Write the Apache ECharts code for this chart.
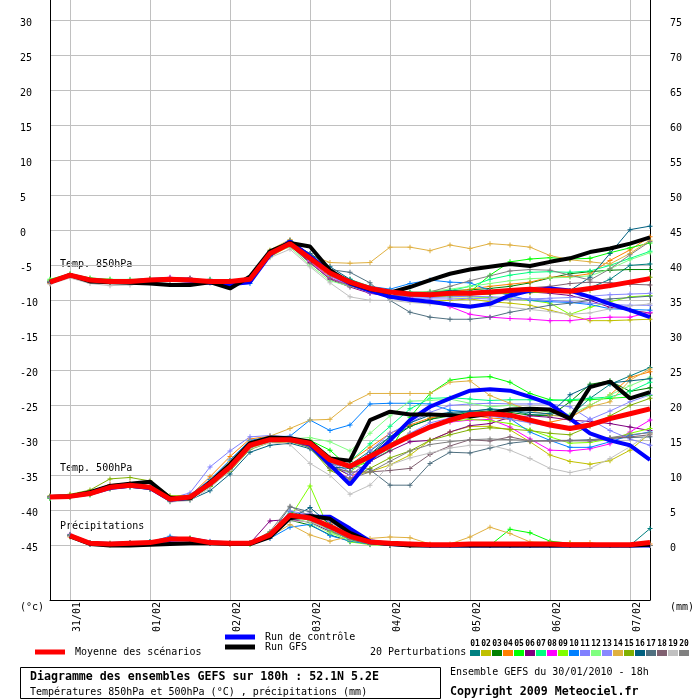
<!DOCTYPE html>
<html>
<head>
<meta charset="utf-8">
<title>Diagramme des ensembles GEFS</title>
<script src="https://cdn.jsdelivr.net/npm/echarts@6/dist/echarts.min.js"></script>
<style>
  html, body { margin: 0; padding: 0; background: #fff; }
  #chart { width: 700px; height: 700px; }
</style>
</head>
<body>
<div id="chart"></div>
<script>
// run du 30/01/2010 18h, pas de 6h jusqu'a 180h
const times = [
  '30/01 18h', '31/01 00h', '31/01 06h', '31/01 12h', '31/01 18h',
  '01/02 00h', '01/02 06h', '01/02 12h', '01/02 18h',
  '02/02 00h', '02/02 06h', '02/02 12h', '02/02 18h',
  '03/02 00h', '03/02 06h', '03/02 12h', '03/02 18h',
  '04/02 00h', '04/02 06h', '04/02 12h', '04/02 18h',
  '05/02 00h', '05/02 06h', '05/02 12h', '05/02 18h',
  '06/02 00h', '06/02 06h', '06/02 12h', '06/02 18h',
  '07/02 00h', '07/02 06h'
];
const leftTicks = [-45, -40, -35, -30, -25, -20, -15, -10, -5, 0, 5, 10, 15, 20, 25, 30];
const rightTicks = [0, 5, 10, 15, 20, 25, 30, 35, 40, 45, 50, 55, 60, 65, 70, 75];

const pertColors = ['#008080', '#c0c000', '#008000', '#ff8000', '#00ff00', '#800080', '#00ff80',
  '#ff00ff', '#80ff00', '#0080ff', '#8080ff', '#80ff80', '#8888ff', '#e0b040', '#80b000',
  '#006080', '#507080', '#806070', '#c0c0c0', '#808080'];

// ---- Temp. 850hPa
const t850Mean = [-7.4,-6.4,-7.1,-7.3,-7.3,-7.1,-7.0,-7.1,-7.3,-7.3,-7.0,-3.3,-1.9,-4.0,-6.1,-7.4,-8.3,-8.8,-9.1,-9.2,-9.0,-9.0,-8.8,-8.6,-8.4,-8.6,-8.7,-8.3,-7.9,-7.4,-6.9];
const t850Gfs = [-7.4,-6.4,-7.3,-7.4,-7.5,-7.6,-7.8,-7.8,-7.4,-8.3,-6.6,-3.0,-1.8,-2.3,-5.7,-7.5,-8.4,-8.9,-8.1,-7.1,-6.2,-5.6,-5.2,-4.8,-5.1,-4.5,-4.0,-3.1,-2.6,-1.9,-1.0];
const t850Ctrl = [-7.4,-6.4,-7.1,-7.3,-7.3,-7.1,-7.0,-7.2,-7.5,-7.7,-7.4,-3.5,-1.6,-3.7,-6.0,-7.6,-8.6,-9.5,-9.9,-10.2,-10.6,-10.9,-10.5,-9.3,-8.6,-8.3,-8.6,-9.5,-10.5,-11.4,-12.4];
const t850Pert = [
  [-7.2,-6.3,-7.0,-7.4,-7.2,-7.0,-7.1,-7.2,-7.0,-7.4,-7.2,-3.6,-2.0,-4.2,-6.4,-7.6,-8.5,-9.0,-9.3,-9.4,-9.2,-9.0,-8.8,-8.7,-8.6,-8.7,-8.8,-8.2,-7.0,-5.0,-4.8],
  [-7.5,-6.5,-7.3,-7.2,-7.4,-7.2,-6.9,-7.0,-7.4,-7.5,-7.3,-3.8,-2.2,-4.5,-6.6,-7.6,-8.6,-9.4,-9.8,-10.1,-10.0,-9.8,-10.2,-10.4,-10.7,-11.4,-12.1,-12.9,-12.9,-12.8,-12.7],
  [-7.3,-6.4,-7.1,-7.2,-7.1,-6.9,-7.0,-7.0,-7.2,-7.2,-6.8,-3.0,-1.6,-3.8,-6.0,-7.3,-8.2,-8.7,-8.9,-8.8,-8.6,-8.5,-8.3,-8.0,-7.5,-6.8,-6.2,-5.9,-5.7,-5.6,-5.6],
  [-7.6,-6.6,-7.2,-7.5,-7.3,-7.1,-7.2,-7.3,-7.5,-7.4,-7.1,-3.4,-1.8,-3.9,-6.2,-7.5,-8.8,-9.3,-9.5,-9.4,-8.9,-8.4,-8.0,-7.7,-7.4,-6.7,-6.6,-6.2,-4.3,-2.8,-0.9],
  [-7.0,-6.2,-6.8,-7.0,-7.1,-7.0,-6.8,-6.9,-7.1,-7.2,-6.9,-2.9,-1.5,-3.6,-5.9,-7.2,-8.3,-8.8,-9.0,-9.2,-8.9,-8.8,-6.4,-4.5,-4.1,-3.9,-4.1,-4.0,-3.2,-2.5,-1.8],
  [-7.4,-6.5,-7.2,-7.3,-7.5,-7.2,-6.8,-6.8,-7.3,-7.4,-7.1,-3.5,-2.1,-4.6,-7.0,-8.1,-9.0,-9.4,-9.5,-9.3,-9.1,-9.0,-8.9,-8.8,-8.8,-9.0,-9.3,-10.0,-11.0,-11.4,-11.8],
  [-7.3,-6.4,-7.0,-7.3,-7.2,-7.1,-7.0,-7.1,-7.2,-7.3,-7.0,-3.1,-1.7,-3.7,-5.8,-7.0,-8.0,-8.6,-8.8,-8.9,-8.6,-8.0,-7.0,-6.4,-6.0,-5.9,-6.0,-5.8,-5.0,-4.0,-3.0],
  [-7.5,-6.4,-7.1,-7.3,-7.4,-7.0,-6.7,-7.0,-7.2,-7.3,-7.0,-3.2,-1.9,-4.4,-6.8,-7.8,-8.9,-9.3,-9.6,-10.2,-10.9,-12.0,-12.4,-12.6,-12.7,-12.9,-12.9,-12.6,-12.4,-12.4,-11.7],
  [-7.2,-6.3,-7.0,-7.1,-7.2,-7.0,-7.1,-7.2,-7.3,-7.2,-7.0,-3.3,-1.9,-3.9,-6.0,-7.4,-8.4,-8.9,-9.2,-9.4,-9.5,-9.5,-9.6,-9.8,-10.0,-10.4,-12.0,-11.0,-10.2,-9.5,-9.3],
  [-7.4,-6.5,-7.2,-7.3,-7.3,-7.2,-7.1,-7.2,-7.4,-7.7,-7.6,-3.7,-1.4,-3.5,-5.8,-7.4,-8.0,-8.4,-7.6,-7.1,-7.4,-7.5,-8.6,-9.3,-10.0,-10.2,-10.3,-10.6,-11.2,-11.3,-11.4],
  [-7.3,-6.4,-7.1,-7.2,-7.3,-7.1,-7.0,-7.1,-7.3,-7.3,-7.0,-3.0,-1.6,-4.1,-6.5,-7.9,-8.9,-9.3,-9.5,-9.6,-9.5,-9.4,-9.5,-9.6,-9.8,-10.0,-10.2,-10.4,-10.6,-10.7,-10.7],
  [-7.1,-6.3,-6.9,-7.0,-7.0,-6.9,-6.9,-7.0,-7.1,-7.2,-6.8,-3.2,-2.4,-5.0,-7.2,-8.0,-8.6,-9.0,-9.0,-8.7,-8.4,-8.0,-7.6,-7.2,-6.9,-6.8,-6.7,-6.5,-5.5,-4.2,-3.2],
  [-7.4,-6.4,-7.1,-7.3,-7.2,-7.1,-7.1,-7.2,-7.3,-7.2,-6.9,-3.4,-2.0,-4.3,-6.4,-7.7,-8.8,-9.4,-9.7,-9.8,-9.8,-9.7,-9.8,-9.9,-9.8,-9.7,-9.6,-9.4,-9.2,-9.1,-9.0],
  [-7.3,-6.4,-7.0,-7.3,-7.3,-7.1,-7.0,-7.1,-7.3,-7.3,-6.9,-2.8,-1.3,-3.5,-4.6,-4.7,-4.6,-2.4,-2.4,-2.9,-2.1,-2.6,-1.9,-2.1,-2.4,-3.6,-4.2,-4.5,-4.8,-3.3,-1.4],
  [-7.5,-6.5,-7.2,-7.4,-7.3,-7.1,-7.0,-7.2,-7.3,-7.3,-7.1,-3.4,-2.0,-4.0,-6.2,-7.5,-8.5,-9.0,-9.2,-9.3,-9.3,-9.2,-9.1,-9.0,-8.9,-8.8,-8.8,-8.6,-7.9,-7.4,-6.7],
  [-7.4,-6.4,-7.1,-7.3,-7.3,-7.1,-7.0,-7.1,-7.3,-7.4,-7.2,-3.5,-1.7,-3.3,-5.2,-7.0,-8.2,-9.0,-9.2,-9.0,-8.6,-8.8,-9.0,-8.8,-8.7,-8.4,-8.6,-6.7,-3.3,0.1,0.6],
  [-7.3,-6.5,-7.2,-7.4,-7.3,-7.1,-7.0,-7.2,-7.3,-7.3,-7.0,-3.1,-1.5,-3.4,-5.6,-6.0,-7.5,-10.0,-11.7,-12.4,-12.7,-12.7,-12.4,-11.7,-11.2,-10.7,-10.4,-10.0,-9.8,-9.6,-9.4],
  [-7.4,-6.5,-7.1,-7.2,-7.3,-7.1,-7.1,-7.1,-7.2,-7.3,-7.0,-3.3,-2.2,-4.7,-6.9,-7.9,-8.8,-9.3,-9.4,-9.3,-9.1,-8.9,-8.6,-8.4,-8.2,-8.0,-7.6,-7.4,-7.5,-7.7,-7.8],
  [-7.7,-6.8,-7.6,-7.9,-7.8,-7.5,-7.3,-7.5,-7.6,-7.5,-7.2,-3.9,-2.7,-5.2,-7.5,-9.5,-10.0,-10.0,-10.3,-10.5,-10.6,-10.6,-10.8,-11.0,-11.3,-11.6,-12.0,-11.8,-11.2,-10.8,-10.5],
  [-7.3,-6.4,-7.1,-7.3,-7.2,-7.0,-7.0,-7.1,-7.2,-7.2,-6.9,-3.2,-1.8,-4.0,-6.1,-7.2,-8.0,-8.7,-9.0,-8.8,-8.0,-7.2,-6.5,-5.8,-5.6,-5.7,-6.4,-7.1,-5.5,-3.5,-1.6]
];

// ---- Temp. 500hPa
const t500Mean = [-38.1,-38.0,-37.6,-36.7,-36.4,-36.7,-38.4,-38.1,-36.2,-33.8,-30.7,-29.9,-29.9,-30.4,-32.8,-33.7,-32.3,-30.8,-29.4,-28.1,-27.1,-26.3,-26.2,-26.4,-27.1,-27.8,-28.3,-27.8,-26.9,-26.2,-25.5];
const t500Gfs = [-38.1,-38.0,-37.4,-36.5,-36.2,-35.9,-38.2,-38.3,-36.0,-33.4,-30.4,-29.6,-29.7,-30.2,-32.6,-32.9,-27.1,-25.9,-26.3,-26.3,-26.4,-26.6,-26.2,-25.6,-25.5,-25.6,-26.9,-22.4,-21.6,-24.0,-23.1];
const t500Ctrl = [-38.1,-38.0,-37.6,-36.8,-36.5,-36.8,-38.5,-38.2,-36.1,-33.6,-30.5,-29.8,-29.8,-30.6,-33.5,-36.3,-32.8,-30.0,-27.1,-25.2,-24.0,-22.9,-22.7,-22.9,-23.8,-24.8,-26.9,-29.0,-30.0,-30.7,-32.8];
const t500Pert = [
  [-38.0,-37.9,-37.4,-36.6,-36.3,-36.6,-38.3,-38.0,-36.4,-34.2,-31.0,-30.0,-30.0,-30.8,-33.2,-33.5,-31.5,-29.5,-28.0,-27.0,-26.2,-25.9,-25.5,-25.7,-26.3,-26.4,-26.5,-24.0,-22.0,-20.8,-19.6],
  [-38.2,-38.1,-37.7,-36.8,-36.5,-36.8,-38.6,-38.3,-36.5,-34.0,-30.9,-30.1,-30.1,-30.9,-33.6,-35.0,-34.5,-33.5,-32.1,-30.0,-28.8,-28.0,-28.0,-28.5,-30.2,-32.1,-33.0,-33.4,-32.9,-31.4,-29.0],
  [-38.1,-37.9,-37.5,-36.6,-36.4,-36.7,-38.4,-38.0,-36.0,-33.5,-30.6,-29.8,-29.8,-30.5,-33.0,-34.0,-32.0,-30.0,-28.0,-27.0,-26.5,-26.0,-25.8,-26.0,-26.4,-26.5,-24.5,-22.0,-21.5,-23.0,-22.5],
  [-38.0,-37.8,-37.3,-36.3,-36.1,-36.5,-38.3,-37.9,-35.2,-32.3,-29.8,-29.4,-29.6,-30.0,-32.4,-33.0,-31.0,-29.0,-27.8,-26.8,-26.3,-26.4,-26.8,-27.0,-27.4,-27.4,-26.8,-25.0,-23.5,-21.0,-20.2],
  [-38.3,-38.1,-37.8,-36.9,-36.6,-36.9,-38.7,-38.4,-36.6,-34.0,-30.8,-29.9,-29.8,-30.0,-31.4,-34.0,-33.0,-31.4,-26.7,-23.3,-21.4,-21.0,-20.9,-21.7,-23.3,-24.2,-24.3,-24.2,-24.0,-23.8,-23.6],
  [-38.1,-38.0,-37.6,-36.8,-36.5,-36.8,-38.5,-38.2,-36.3,-33.9,-30.8,-30.0,-30.0,-30.7,-33.5,-35.0,-33.0,-31.5,-30.2,-30.0,-28.8,-27.9,-27.6,-26.7,-26.5,-26.7,-27.1,-27.3,-27.6,-28.1,-28.6],
  [-38.2,-38.0,-37.5,-36.6,-36.3,-36.6,-38.3,-38.1,-36.2,-33.8,-30.7,-29.9,-29.9,-30.3,-32.6,-33.0,-30.5,-28.0,-25.5,-24.0,-23.9,-24.1,-24.3,-24.2,-24.2,-24.3,-24.2,-24.0,-23.8,-23.0,-21.7],
  [-38.0,-38.0,-37.6,-36.7,-36.4,-36.7,-38.5,-38.2,-36.4,-34.1,-31.0,-30.1,-30.0,-30.8,-33.8,-35.5,-33.0,-30.5,-29.0,-27.9,-27.4,-27.1,-27.0,-28.1,-29.8,-31.4,-31.5,-31.2,-30.5,-28.8,-27.1],
  [-38.2,-38.1,-37.7,-36.8,-36.5,-36.7,-38.6,-38.3,-36.5,-34.2,-31.1,-30.2,-30.1,-30.9,-33.9,-34.5,-32.5,-30.5,-29.0,-28.0,-27.3,-27.0,-27.2,-27.6,-28.5,-29.5,-30.4,-30.3,-29.8,-29.0,-28.3],
  [-38.0,-37.9,-37.4,-36.5,-36.2,-36.5,-38.2,-37.8,-35.6,-32.8,-30.0,-29.5,-29.4,-27.1,-28.6,-27.8,-24.8,-24.7,-24.7,-24.8,-25.7,-25.9,-26.4,-26.9,-28.8,-30.0,-31.0,-31.0,-30.2,-29.3,-28.8],
  [-38.0,-37.9,-37.4,-36.4,-36.2,-36.5,-38.3,-37.5,-33.8,-31.5,-29.5,-29.3,-29.5,-30.2,-33.0,-34.5,-31.5,-29.0,-27.5,-26.0,-25.0,-24.8,-24.7,-24.8,-24.8,-24.8,-25.2,-27.0,-28.6,-29.8,-30.7],
  [-38.1,-38.0,-37.6,-36.7,-36.4,-36.7,-38.4,-38.1,-36.3,-33.9,-30.8,-29.9,-29.8,-29.6,-30.2,-31.5,-29.0,-26.5,-24.4,-24.3,-24.1,-24.7,-25.2,-25.0,-25.5,-26.0,-26.3,-25.0,-23.5,-22.2,-21.0],
  [-38.1,-38.0,-37.5,-36.6,-36.3,-36.6,-38.4,-38.0,-36.1,-33.6,-30.6,-29.8,-29.8,-30.5,-33.1,-35.0,-33.0,-31.0,-29.0,-27.5,-26.8,-26.4,-26.5,-27.0,-27.5,-28.0,-28.2,-27.0,-25.8,-24.5,-23.5],
  [-38.1,-37.9,-37.4,-36.5,-36.2,-36.5,-38.2,-37.9,-35.8,-33.0,-30.2,-29.4,-28.3,-27.1,-27.0,-24.7,-23.3,-23.3,-23.3,-23.3,-21.7,-21.5,-23.6,-24.7,-25.7,-26.4,-26.7,-25.2,-24.5,-21.4,-19.8],
  [-37.9,-37.7,-37.1,-35.5,-35.3,-35.8,-37.9,-37.9,-36.6,-34.4,-31.3,-30.3,-30.2,-31.0,-34.3,-35.5,-34.0,-32.5,-31.5,-30.0,-29.2,-28.5,-28.2,-28.4,-28.6,-29.0,-29.2,-28.0,-26.5,-25.0,-24.0],
  [-38.2,-38.1,-37.7,-36.9,-36.7,-37.0,-38.7,-38.5,-37.2,-34.8,-31.7,-30.7,-30.4,-31.2,-33.8,-34.0,-32.0,-29.5,-27.5,-26.4,-26.0,-25.8,-25.6,-25.8,-26.0,-26.2,-23.5,-22.2,-21.8,-21.5,-21.2],
  [-38.1,-38.0,-37.6,-36.8,-36.5,-36.8,-38.5,-38.2,-36.4,-34.0,-30.9,-30.1,-30.1,-31.0,-33.5,-33.5,-34.2,-36.4,-36.4,-33.3,-31.7,-31.8,-31.1,-30.4,-30.1,-30.0,-30.0,-29.9,-29.7,-29.6,-29.5],
  [-38.1,-38.0,-37.6,-36.7,-36.4,-36.8,-38.6,-38.2,-36.3,-33.9,-30.9,-30.1,-30.1,-30.9,-33.8,-34.5,-34.5,-34.3,-34.0,-32.0,-30.8,-29.9,-30.1,-29.5,-30.1,-30.1,-30.0,-30.1,-29.7,-29.5,-29.2],
  [-38.2,-38.1,-37.7,-36.9,-36.6,-36.9,-38.8,-38.6,-36.8,-34.3,-31.2,-30.3,-30.6,-33.3,-35.0,-37.7,-36.4,-33.5,-32.5,-31.8,-31.1,-30.7,-30.7,-31.4,-32.6,-34.0,-34.6,-34.0,-32.6,-30.9,-29.0],
  [-38.1,-38.0,-37.6,-36.8,-36.5,-36.8,-38.5,-38.1,-36.2,-33.8,-30.7,-30.0,-30.0,-30.9,-34.0,-35.5,-34.5,-33.0,-31.5,-30.6,-30.2,-29.9,-29.8,-29.9,-30.0,-30.1,-30.1,-30.0,-29.6,-29.2,-28.9]
];

// ---- Precipitations (mm), pas de valeur a l'echeance 0
const precMean = [null,1.4,0.3,0.2,0.3,0.4,0.9,0.9,0.4,0.3,0.3,1.5,4.3,3.9,2.7,1.3,0.5,0.3,0.2,0.1,0.1,0.2,0.2,0.2,0.2,0.2,0.1,0.1,0.1,0.1,0.4];
const precGfs = [null,1.3,0.2,0.0,0.0,0.1,0.2,0.3,0.3,0.2,0.2,1.2,3.9,4.2,3.8,1.8,0.5,0.2,0.0,0.0,0.0,0.0,0.0,0.0,0.0,0.0,0.0,0.0,0.0,0.0,0.1];
const precCtrl = [null,1.4,0.3,0.2,0.3,0.3,0.8,0.9,0.4,0.3,0.3,1.3,4.0,4.1,4.1,2.4,0.6,0.2,0.1,0.0,0.0,0.0,0.0,0.0,0.0,0.0,0.0,0.0,0.0,0.0,0.0];
const precPert = [
  [null,1.5,0.2,0.1,0.2,0.5,1.0,0.8,0.3,0.2,0.3,1.4,4.8,4.0,2.2,0.9,0.3,0.1,0.0,0.0,0.0,0.0,0.0,0.0,0.0,0.0,0.0,0.0,0.0,0.0,2.4],
  [null,1.3,0.3,0.2,0.3,0.3,0.8,0.9,0.4,0.2,0.2,1.6,4.5,3.6,2.5,1.1,0.4,0.2,0.1,0.0,0.0,0.0,0.0,0.0,0.1,0.1,0.0,0.0,0.0,0.0,0.0],
  [null,1.4,0.2,0.2,0.2,0.4,1.1,1.0,0.5,0.3,0.3,1.8,3.6,2.9,1.5,0.6,0.2,0.0,0.0,0.0,0.0,0.0,0.0,0.0,0.0,0.0,0.0,0.0,0.0,0.0,0.0],
  [null,1.2,0.3,0.3,0.4,0.4,0.7,0.8,0.3,0.2,0.4,1.1,3.9,4.5,3.2,1.4,0.5,0.3,0.2,0.1,0.0,0.0,0.0,0.0,0.0,0.0,0.0,0.0,0.0,0.0,0.2],
  [null,1.5,0.3,0.1,0.3,0.5,0.9,1.1,0.4,0.3,0.2,1.5,4.2,3.8,2.6,1.2,0.4,0.2,0.1,0.0,0.0,0.0,0.0,2.3,1.8,0.6,0.3,0.0,0.0,0.0,0.0],
  [null,1.4,0.4,0.2,0.2,0.3,0.8,0.7,0.3,0.3,0.3,3.5,3.7,3.3,2.0,1.0,0.4,0.1,0.0,0.0,0.0,0.0,0.0,0.0,0.0,0.0,0.0,0.0,0.0,0.0,0.0],
  [null,1.3,0.2,0.2,0.3,0.4,0.9,0.9,0.4,0.3,0.2,1.4,4.6,3.5,2.2,0.8,0.3,0.1,0.0,0.0,0.0,0.0,0.0,0.0,0.0,0.0,0.0,0.0,0.0,0.0,0.0],
  [null,1.6,0.3,0.2,0.3,0.4,1.0,0.9,0.4,0.2,0.3,1.3,4.4,4.3,3.9,1.6,0.5,0.2,0.1,0.0,0.0,0.0,0.0,0.0,0.0,0.0,0.0,0.0,0.0,0.0,0.0],
  [null,1.4,0.3,0.2,0.3,0.4,0.9,0.9,0.4,0.3,0.3,1.7,4.0,8.5,2.0,0.5,0.1,0.0,0.0,0.0,0.0,0.0,0.0,0.0,0.0,0.0,0.0,0.0,0.0,0.0,0.0],
  [null,1.4,0.3,0.2,0.3,0.5,1.3,0.9,0.4,0.3,0.3,1.0,2.6,3.0,1.4,0.6,0.2,0.0,0.0,0.0,0.0,0.0,0.0,0.0,0.0,0.0,0.0,0.0,0.0,0.0,0.0],
  [null,1.3,0.2,0.2,0.4,0.3,0.8,1.0,0.6,0.3,0.3,1.5,4.9,4.4,2.9,1.3,0.4,0.2,0.0,0.0,0.0,0.0,0.0,0.0,0.0,0.0,0.0,0.0,0.0,0.0,0.0],
  [null,1.5,0.3,0.2,0.3,0.4,0.9,0.8,0.4,0.3,0.2,1.9,4.1,3.2,1.8,0.7,0.3,0.1,0.0,0.0,0.0,0.0,0.0,0.0,0.0,0.0,0.0,0.0,0.0,0.0,0.0],
  [null,1.4,0.2,0.2,0.3,0.3,0.9,0.9,0.5,0.3,0.3,1.4,4.3,4.6,3.4,1.5,0.5,0.2,0.0,0.0,0.0,0.0,0.0,0.0,0.0,0.0,0.0,0.0,0.0,0.0,0.0],
  [null,1.3,0.3,0.2,0.3,0.4,0.8,0.8,0.4,0.2,0.3,1.2,3.0,1.5,0.6,1.3,1.0,1.2,1.1,0.2,0.2,1.2,2.6,1.7,0.5,0.4,0.4,0.4,0.0,0.0,0.0],
  [null,1.4,0.3,0.3,0.3,0.4,0.9,0.9,0.4,0.3,0.3,1.6,4.2,4.0,2.8,1.2,0.4,0.1,0.0,0.0,0.0,0.0,0.0,0.0,0.0,0.0,0.0,0.0,0.0,0.0,0.0],
  [null,1.5,0.3,0.2,0.3,0.5,1.0,0.9,0.4,0.3,0.3,1.3,3.8,5.4,3.0,1.1,0.4,0.1,0.0,0.0,0.0,0.0,0.0,0.0,0.0,0.0,0.0,0.0,0.0,0.0,0.0],
  [null,1.4,0.3,0.2,0.3,0.4,0.9,1.0,0.4,0.3,0.3,1.5,5.5,4.8,2.4,0.8,0.2,0.0,0.0,0.0,0.0,0.0,0.0,0.0,0.0,0.0,0.0,0.0,0.0,0.0,0.0],
  [null,1.4,0.2,0.2,0.3,0.4,0.9,0.9,0.4,0.3,0.3,1.4,4.0,3.7,2.6,1.4,0.5,0.2,0.0,0.0,0.0,0.0,0.0,0.0,0.0,0.0,0.0,0.0,0.0,0.0,0.0],
  [null,1.3,0.3,0.2,0.3,0.4,0.8,0.9,0.4,0.3,0.3,1.2,3.5,3.4,2.3,1.0,0.3,0.1,0.0,0.0,0.0,0.0,0.0,0.0,0.0,0.0,0.0,0.0,0.0,0.0,0.0],
  [null,1.4,0.3,0.2,0.3,0.4,1.0,1.0,0.5,0.3,0.3,2.0,5.6,4.2,2.1,0.9,0.3,0.1,0.0,0.0,0.0,0.0,0.0,0.0,0.0,0.0,0.0,0.0,0.0,0.0,0.0]
];

const MONO = '"DejaVu Sans Mono", "Liberation Mono", monospace';
const plus = 'path://M2,0H3V5H2ZM0,2H5V3H0Z';

function pertSeries(data, k, axis) {
  return {
    type: 'line', name: 'P' + (k + 1), data: data, yAxisIndex: axis,
    symbol: plus, symbolSize: 5, showSymbol: true,
    lineStyle: { width: 1, color: pertColors[k] },
    itemStyle: { color: pertColors[k] },
    silent: true, z: 2
  };
}
function bigSeries(name, data, axis, color, width) {
  return {
    type: 'line', name: name, data: data, yAxisIndex: axis,
    showSymbol: false, symbol: 'none',
    lineStyle: { width: width, color: color },
    itemStyle: { color: color },
    silent: true, z: 3
  };
}

let series = [];
[[t850Pert, 0], [t500Pert, 0], [precPert, 1]].forEach(([set, ax]) => {
  set.forEach((d, k) => series.push(pertSeries(d, k, ax)));
});
[[t850Ctrl, 0], [t500Ctrl, 0], [precCtrl, 1]].forEach(([d, ax]) => series.push(bigSeries('Run de contrôle', d, ax, '#0000ff', 4)));
[[t850Gfs, 0], [t500Gfs, 0], [precGfs, 1]].forEach(([d, ax]) => series.push(bigSeries('Run GFS', d, ax, '#000000', 4)));
[[t850Mean, 0], [t500Mean, 0], [precMean, 1]].forEach(([d, ax]) => series.push(bigSeries('Moyenne des scénarios', d, ax, '#ff0000', 5)));

// textes et legende des perturbations
function txt(text, x, y, font) {
  return {
    type: 'text', x: x, y: y, silent: true,
    style: { text: text, fill: '#000', font: font || ('10px ' + MONO), verticalAlign: 'middle' }
  };
}
let graphics = [
  txt('Temp. 850hPa', 60, 264),
  txt('Temp. 500hPa', 60, 468),
  txt('Précipitations', 60, 526),
  txt('(°c)', 20, 607),
  txt('(mm)', 670, 607),
  txt('20 Perturbations', 370, 652),
  {
    type: 'rect', shape: { x: 20.5, y: 667.5, width: 420, height: 31 },
    style: { fill: '#fff', stroke: '#000', lineWidth: 1 }, silent: true
  },
  txt('Diagramme des ensembles GEFS sur 180h : 52.1N 5.2E', 30, 677, 'bold 11.6px ' + MONO),
  txt('Températures 850hPa et 500hPa (°C) , précipitations (mm)', 30, 692),
  txt('Ensemble GEFS du 30/01/2010 - 18h', 450, 672),
  txt('Copyright 2009 Meteociel.fr', 450, 692, 'bold 11.6px ' + MONO)
];
pertColors.forEach((c, k) => {
  graphics.push({ type: 'rect', shape: { x: 470 + k * 11, y: 650, width: 10, height: 6 }, style: { fill: c }, silent: true });
  graphics.push({
    type: 'text', x: 475 + k * 11, y: 644, silent: true,
    style: { text: String(k + 1).padStart(2, '0'), fill: '#000', font: 'bold 8px ' + MONO, align: 'center', verticalAlign: 'middle' }
  });
});

const chart = echarts.init(document.getElementById('chart'));
chart.setOption({
  backgroundColor: '#fff',
  animation: false,
  grid: { left: 50, right: 50, top: 0, bottom: 100, containLabel: false },
  legend: [
    {
      data: ['Moyenne des scénarios'], left: 35, top: 647, padding: 0, itemGap: 0,
      icon: 'rect', itemWidth: 30, itemHeight: 5, selectedMode: false,
      textStyle: { fontFamily: MONO, fontSize: 10, color: '#000', lineHeight: 10, padding: [0, 0, 0, 5] }
    },
    {
      data: ['Run de contrôle', 'Run GFS'], orient: 'vertical', left: 225, top: 632, padding: 0, itemGap: 0,
      icon: 'rect', itemWidth: 30, itemHeight: 5, selectedMode: false,
      textStyle: { fontFamily: MONO, fontSize: 10, color: '#000', lineHeight: 10, padding: [0, 0, 0, 5] }
    }
  ],
  xAxis: {
    type: 'category', data: times, boundaryGap: false,
    axisLine: { onZero: false, lineStyle: { color: '#000', width: 1 } },
    axisTick: { show: false },
    splitLine: { show: true, interval: (i) => i % 4 === 1, lineStyle: { color: '#c0c0c0', width: 1 } },
    axisLabel: {
      interval: (i) => i % 4 === 1, rotate: 90, margin: 2,
      formatter: (v) => v.slice(0, 5), color: '#000',
      fontFamily: MONO, fontSize: 10, verticalAlign: 'top', lineHeight: 14
    }
  },
  yAxis: [
    {
      type: 'value', position: 'left', min: -52.8, max: 32.9,
      axisLine: { show: true, lineStyle: { color: '#000', width: 1 } },
      axisTick: { show: false, customValues: leftTicks },
      axisLabel: {
        customValues: leftTicks, align: 'left', margin: 30, color: '#000',
        fontFamily: MONO, fontSize: 10, verticalAlign: 'top', lineHeight: 6
      },
      splitLine: { show: true, lineStyle: { color: '#c0c0c0', width: 1 } }
    },
    {
      type: 'value', position: 'right', min: -7.8, max: 77.9,
      axisLine: { show: true, lineStyle: { color: '#000', width: 1 } },
      axisTick: { show: false, customValues: rightTicks },
      axisLabel: {
        customValues: rightTicks, align: 'left', margin: 20, color: '#000',
        fontFamily: MONO, fontSize: 10, verticalAlign: 'top', lineHeight: 6
      },
      splitLine: { show: false }
    }
  ],
  graphic: graphics,
  series: series
});
</script>
</body>
</html>
